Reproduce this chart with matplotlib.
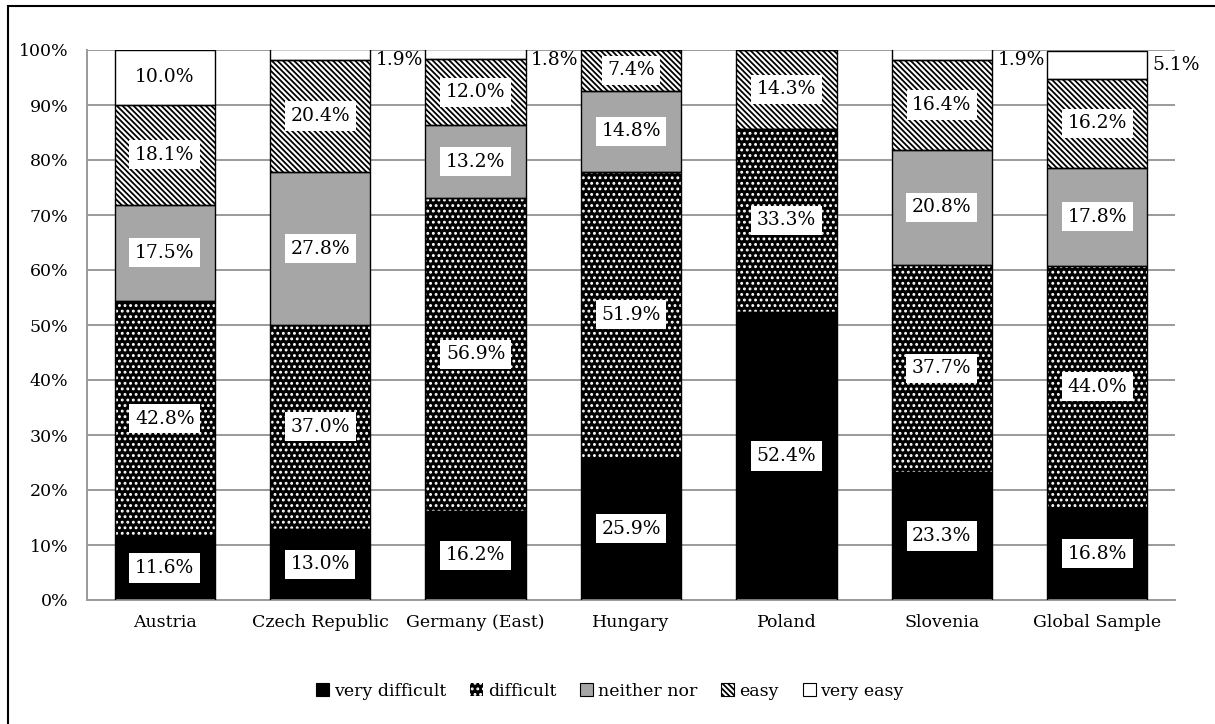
import matplotlib
matplotlib.use("Agg")
import matplotlib.pyplot as plt
from matplotlib.patches import Patch, Rectangle
import numpy as np

plt.rcParams['font.family'] = ['DejaVu Serif']
plt.rcParams['hatch.linewidth'] = 1.3

categories = ["Austria", "Czech Republic", "Germany (East)", "Hungary",
              "Poland", "Slovenia", "Global Sample"]
series_names = ["very difficult", "difficult", "neither nor", "easy", "very easy"]

very_difficult = [11.6, 13.0, 16.2, 25.9, 52.4, 23.3, 16.8]
difficult = [42.8, 37.0, 56.9, 51.9, 33.3, 37.7, 44.0]
neither_nor = [17.5, 27.8, 13.2, 14.8, 0.0, 20.8, 17.8]
easy = [18.1, 20.4, 12.0, 7.4, 14.3, 16.4, 16.2]
very_easy = [10.0, 1.9, 1.8, 0.0, 0.0, 1.9, 5.1]

yticks = [0, 10, 20, 30, 40, 50, 60, 70, 80, 90, 100]

series = [very_difficult, difficult, neither_nor, easy, very_easy]
DOTS = "..."
STRIPES = "\\" * 6
# face colour, hatch, hatch colour for each response level
styles = [
    ("black", None, "black"),
    ("black", DOTS, "white"),
    ("#a6a6a6", None, "black"),
    ("white", STRIPES, "black"),
    ("white", None, "black"),
]

fig = plt.figure(figsize=(12.15, 7.24), dpi=100)
ax = fig.add_axes([87 / 1215, 1 - 600 / 724, (1175 - 87) / 1215, 550 / 724])

LABEL_SIZE = 13.5
x = np.arange(len(categories))
width = 0.645
bottom = np.zeros(len(categories))
for vals, (fc, hatch, hc) in zip(series, styles):
    vals = np.array(vals)
    ax.bar(x, vals, width, bottom=bottom, color=fc, edgecolor=hc,
           hatch=hatch, linewidth=0, zorder=2)
    ax.bar(x, vals, width, bottom=bottom, fill=False, edgecolor="black",
           linewidth=1.0, zorder=3)
    for xi, v, b in zip(x, vals, bottom):
        if v <= 0:
            continue
        if v >= 6:
            ax.text(xi, b + v / 2, f"{v:.1f}%", ha="center", va="center",
                    fontsize=LABEL_SIZE, zorder=5,
                    bbox=dict(boxstyle="square,pad=0.3", fc="white",
                              ec="none"))
        else:
            # thin top segments: label sits just right of the bar
            ax.text(xi + width / 2 + 0.035, min(b + v / 2, 98.2), f"{v:.1f}%",
                    ha="left", va="center", fontsize=LABEL_SIZE, zorder=5)
    bottom = bottom + vals

ax.set_xlim(-0.5, len(categories) - 0.5)
ax.set_ylim(0, 100)
ax.set_yticks(yticks)
ax.set_yticklabels([f"{t}%" for t in yticks])
ax.set_xticks(x)
ax.set_xticklabels(categories)
ax.tick_params(axis="both", length=0, labelsize=12.5)
ax.tick_params(axis="y", pad=13.5)
ax.tick_params(axis="x", pad=10)
ax.yaxis.grid(True, color="#9a9a9a", linewidth=1.4)
ax.set_axisbelow(True)
for side in ("top", "right"):
    ax.spines[side].set_visible(False)
for side in ("left", "bottom"):
    ax.spines[side].set_color("#9a9a9a")
    ax.spines[side].set_linewidth(1.4)

handles = [
    Patch(facecolor="black", edgecolor="black", linewidth=0.8),
    Patch(facecolor="black", edgecolor="white", hatch=DOTS, linewidth=0),
    Patch(facecolor="#a6a6a6", edgecolor="black", linewidth=0.8),
    Patch(facecolor="white", edgecolor="black", hatch=STRIPES, linewidth=0.8),
    Patch(facecolor="white", edgecolor="black", linewidth=0.8),
]
fig.legend(handles, series_names, loc="center",
           bbox_to_anchor=(0.502, 1 - 691 / 724),
           ncol=5, frameon=False, fontsize=12.5, handlelength=0.75,
           handleheight=0.75, handletextpad=0.25, columnspacing=1.4)

# chart frame
fig.patches.append(Rectangle((8 / 1215, -0.5), 2, 0.5 + 1 - 6 / 724,
                             transform=fig.transFigure, fill=False,
                             edgecolor="black", linewidth=1.5))

fig.savefig("out.png", dpi=100)
